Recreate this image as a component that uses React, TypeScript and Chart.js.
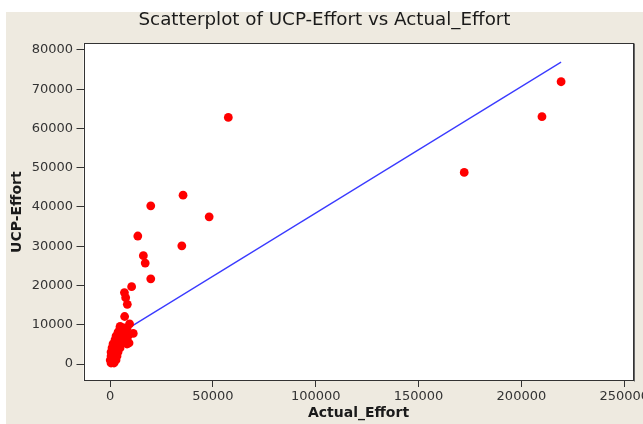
import React, { useEffect, useRef } from "react";
import { Chart, registerables } from "chart.js";

Chart.register(...registerables);

const chartTitle = "Scatterplot of UCP-Effort vs Actual_Effort";
const xTitle = "Actual_Effort";
const yTitle = "UCP-Effort";

const xTicks = [0, 50000, 100000, 150000, 200000, 250000];
const yTicks = [0, 10000, 20000, 30000, 40000, 50000, 60000, 70000, 80000];

const actualEffort = [
  219300, 210000, 172200, 57500, 48200, 35500, 34900, 19800, 13500, 16200,
  17100, 19800, 10500, 7000, 7600, 8400, 7100, 9500, 4900, 11300,
  4860, 6800, 8260, 3890, 5830, 7780, 2920, 4860, 6800, 8750,
  2430, 4380, 6320, 8260, 1460, 3400, 5350, 8260, 9240, 970,
  2920, 4860, 490, 1940, 3890, 490, 1940, 3400, 100, 1460,
  2920, 490, 1940,
];
const ucpEffort = [
  71900, 63000, 48800, 62800, 37500, 43000, 30100, 40300, 32600, 27600,
  25700, 21700, 19700, 18200, 16900, 15200, 12100, 10200, 9600, 7800,
  9170, 9170, 9170, 8150, 8150, 8150, 7130, 7130, 7130, 7130,
  6120, 6120, 6120, 6120, 5100, 5100, 5100, 5100, 5350, 4080,
  4080, 4080, 3060, 3060, 3060, 2040, 2040, 2040, 1020, 1020,
  1020, 260, 260,
];

const fitX = [500, 219300];
const fitY = [6400, 76900];

const bgPlugin = {
  id: "bgPlugin",
  beforeDraw(chart: any) {
    const { ctx, chartArea } = chart;
    ctx.save();
    ctx.fillStyle = "#ffffff";
    ctx.fillRect(0, 0, chart.width, chart.height);
    ctx.fillStyle = "#eeeae0";
    ctx.fillRect(6, 12, chart.width - 6, chart.height - 12);
    ctx.fillStyle = "#ffffff";
    ctx.fillRect(chartArea.left, chartArea.top, chartArea.right - chartArea.left, chartArea.bottom - chartArea.top);
    ctx.restore();
  },
  afterDraw(chart: any) {
    const { ctx, chartArea } = chart;
    const l = Math.round(chartArea.left) + 0.5;
    const t = Math.round(chartArea.top) + 0.5;
    const r = Math.round(chartArea.right) - 0.5;
    const b = Math.round(chartArea.bottom) - 0.5;
    ctx.save();
    ctx.strokeStyle = "#333333";
    ctx.lineWidth = 1;
    ctx.strokeRect(l, t, r - l, b - t);
    ctx.strokeStyle = "#666666";
    ctx.beginPath();
    ctx.moveTo(r + 1, t);
    ctx.lineTo(r + 1, b + 1);
    ctx.stroke();
    ctx.restore();
  },
};

export default function App() {
  const ref = useRef<HTMLCanvasElement | null>(null);

  useEffect(() => {
    if (!ref.current) return;
    const tickFont = { family: "'DejaVu Sans', sans-serif", size: 13 };
    const titleFont = { family: "'DejaVu Sans', sans-serif", size: 14, weight: "bold" as const };
    const chart = new Chart(ref.current, {
      type: "scatter",
      data: {
        datasets: [
          {
            label: "points",
            data: actualEffort.map((x, i) => ({ x, y: ucpEffort[i] })),
            backgroundColor: "#ff0000",
            borderWidth: 0,
            pointRadius: 4.4,
            pointHoverRadius: 4.4,
          },
          {
            type: "line" as const,
            label: "fit",
            data: fitX.map((x, i) => ({ x, y: fitY[i] })),
            borderColor: "#3a3aff",
            borderWidth: 1.3,
            pointRadius: 0,
            showLine: true,
            fill: false,
          },
        ],
      },
      options: {
        animation: false,
        responsive: false,
        maintainAspectRatio: false,
        layout: { padding: { left: 15.5, right: 9.5, top: 0, bottom: 0 } },
        plugins: {
          legend: { display: false },
          tooltip: { enabled: false },
          title: {
            display: true,
            text: chartTitle,
            color: "#1a1a1a",
            font: { family: "'DejaVu Sans', sans-serif", size: 18.3, weight: "normal" as const },
            padding: { top: 9.3, bottom: 12.0 },
          },
        },
        scales: {
          x: {
            type: "linear",
            min: -12900,
            max: 254500,
            afterBuildTicks: (scale: any) => {
              scale.ticks = xTicks.map((v) => ({ value: v }));
            },
            afterFit: (scale: any) => {
              scale.height = 43;
              scale.paddingLeft = 0;
              scale.paddingRight = 0;
            },
            ticks: {
              color: "#333333",
              font: tickFont,
              padding: 2,
              maxRotation: 0,
              autoSkip: false,
              callback: (v: any) => String(v),
            },
            grid: { drawOnChartArea: false, drawTicks: true, tickLength: 6, color: "#333333" },
            border: { display: false },
            title: { display: true, text: xTitle, color: "#1a1a1a", font: titleFont, padding: { top: 0, bottom: 2.6 } },
          },
          y: {
            type: "linear",
            min: -4330,
            max: 81700,
            afterBuildTicks: (scale: any) => {
              scale.ticks = yTicks.map((v) => ({ value: v }));
            },
            afterFit: (scale: any) => {
              scale.width = 68;
              scale.paddingTop = 0;
              scale.paddingBottom = 0;
            },
            ticks: {
              color: "#333333",
              font: tickFont,
              padding: 3.5,
              autoSkip: false,
              callback: (v: any) => String(v),
            },
            grid: { drawOnChartArea: false, drawTicks: true, tickLength: 7, color: "#333333" },
            border: { display: false },
            title: { display: true, text: yTitle, color: "#1a1a1a", font: titleFont, padding: { top: -6.4, bottom: 0 } },
          },
        },
      },
      plugins: [bgPlugin],
    });
    return () => chart.destroy();
  }, []);

  return (
    <div style={{ position: "fixed", left: 0, top: 0, width: 643, height: 424 }}>
      <canvas ref={ref} width={643} height={424} style={{ display: "block", width: 643, height: 424 }} />
    </div>
  );
}
